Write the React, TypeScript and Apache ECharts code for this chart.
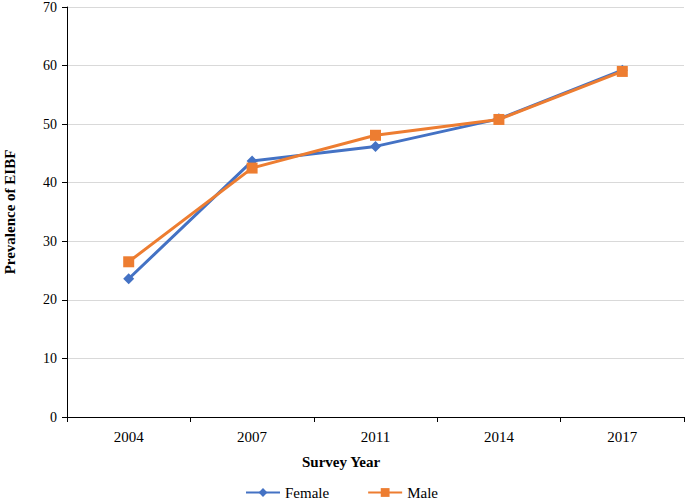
import React, { useEffect, useRef } from "react";
import * as echarts from "echarts";

const years = ["2004", "2007", "2011", "2014", "2017"];
const female = [23.6, 43.7, 46.2, 50.9, 59.2];
const male = [26.5, 42.5, 48.1, 50.8, 59.0];
const yTicks = { min: 0, max: 70, interval: 10 };

const FONT = "'Liberation Serif', 'Times New Roman', serif";

export default function App() {
  const ref = useRef<HTMLDivElement>(null);
  useEffect(() => {
    document.body.style.margin = "0";
    if (!ref.current) return;
    const chart = echarts.init(ref.current, undefined, { renderer: "svg" });
    chart.setOption({
      animation: false,
      backgroundColor: "#ffffff",
      textStyle: { fontFamily: FONT },
      grid: { left: 67, right: 1, top: 7, bottom: 82, containLabel: false, outerBoundsMode: "none" },
      legend: {
        top: 480,
        left: 240,
        itemWidth: 34,
        itemHeight: 11,
        itemGap: 38,
        textStyle: { fontFamily: FONT, fontSize: 15, color: "#000" },
        data: ["Female", "Male"],
      },
      xAxis: {
        type: "category",
        data: years,
        boundaryGap: true,
        axisLine: { show: true, lineStyle: { color: "#000", width: 1 } },
        axisTick: { show: true, length: 5, lineStyle: { color: "#000" } },
        axisLabel: { color: "#000", fontFamily: FONT, fontSize: 15, margin: 12 },
        splitLine: { show: false },
      },
      yAxis: {
        type: "value",
        min: yTicks.min,
        max: yTicks.max,
        interval: yTicks.interval,
        name: "Prevalence of EIBF",
        nameLocation: "middle",
        nameRotate: 90,
        nameGap: 50,
        nameTextStyle: { fontFamily: FONT, fontSize: 15, fontWeight: "bold", color: "#000" },
        axisLine: { show: true, lineStyle: { color: "#000", width: 1 } },
        axisTick: { show: true, length: 5, lineStyle: { color: "#000" } },
        axisLabel: { color: "#000", fontFamily: FONT, fontSize: 14, margin: 10 },
        splitLine: { show: true, lineStyle: { color: "#d9d9d9", width: 1 } },
      },
      graphic: [
        {
          type: "text",
          left: 302,
          top: 454,
          style: {
            text: "Survey Year",
            fontFamily: FONT,
            fontSize: 15,
            fontWeight: "bold",
            fill: "#000",
          },
        },
      ],
      series: [
        {
          name: "Female",
          type: "line",
          data: female,
          symbol: "diamond",
          symbolSize: 11,
          color: "#4472C4",
          lineStyle: { width: 3, color: "#4472C4" },
          itemStyle: { color: "#4472C4" },
        },
        {
          name: "Male",
          type: "line",
          data: male,
          symbol: "rect",
          symbolSize: 11,
          color: "#ED7D31",
          lineStyle: { width: 3, color: "#ED7D31" },
          itemStyle: { color: "#ED7D31" },
        },
      ],
    });
    return () => chart.dispose();
  }, []);
  return <div ref={ref} style={{ width: 685, height: 499 }} />;
}
